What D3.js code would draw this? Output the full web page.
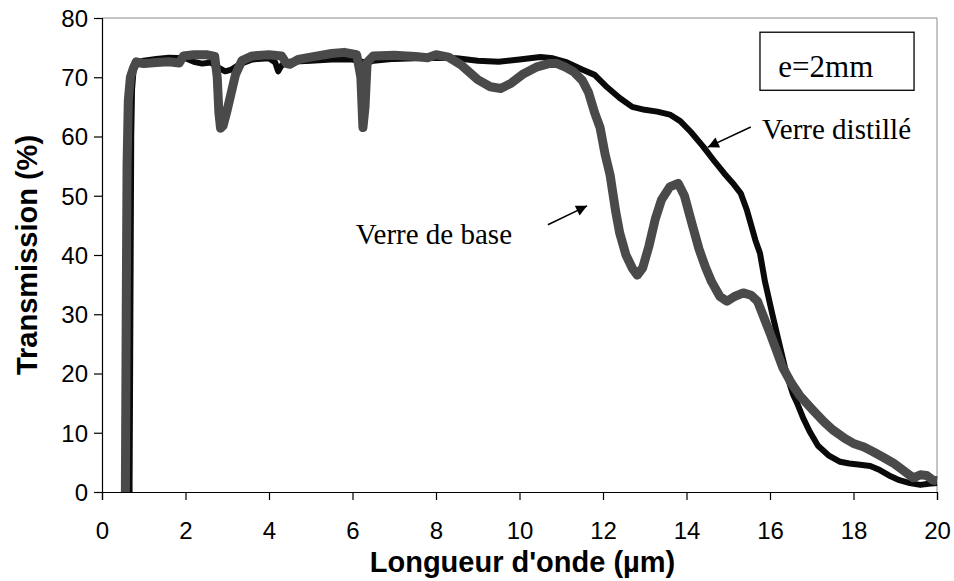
<!DOCTYPE html>
<html>
<head>
<meta charset="utf-8">
<script src="https://cdn.jsdelivr.net/npm/d3@7/dist/d3.min.js"></script>
<style>
  html, body { margin: 0; padding: 0; background: #fff; }
  svg { display: block; }
</style>
</head>
<body>
<svg id="chart" width="954" height="581"></svg>
<script>
// Transmission spectra of two glasses, thickness 2 mm
const baseX = [0.56,0.58,0.60,0.63,0.68,0.75,0.82,1.0,1.3,1.6,1.85,1.95,2.2,2.5,2.7,2.76,2.8,2.84,2.9,3.0,3.1,3.2,3.35,3.6,4.0,4.3,4.42,4.5,4.7,5.0,5.5,5.8,6.1,6.2,6.25,6.3,6.35,6.5,7.0,7.5,7.8,8.0,8.3,8.6,9.0,9.3,9.55,9.8,10.1,10.4,10.7,10.9,11.1,11.3,11.5,11.65,11.8,11.93,12.05,12.17,12.3,12.4,12.55,12.7,12.82,12.95,13.1,13.25,13.4,13.6,13.8,13.95,14.15,14.3,14.45,14.6,14.8,14.97,15.15,15.36,15.55,15.7,15.85,16.0,16.15,16.3,16.5,16.72,17.03,17.3,17.5,17.8,18.0,18.25,18.47,18.7,18.95,19.2,19.43,19.6,19.75,19.9,20.0];
const baseY = [0,30,55,66,70,71.5,72.6,72.3,72.5,72.6,72.4,73.6,73.8,73.8,73.5,70,64,61.4,61.8,64.5,67.5,70.5,72.8,73.6,73.8,73.6,72.3,72.2,73.0,73.4,74.0,74.2,73.8,70,61.5,65,72.5,73.6,73.7,73.5,73.3,73.8,73.4,72.1,69.6,68.4,68.1,69.0,70.6,71.7,72.3,72.3,71.7,70.9,69.5,67.5,64,61.5,57,53.5,47.5,43.7,40,37.8,36.6,37.8,41.5,46,49.3,51.5,52.1,50,44.8,41,38,35.5,33,32.2,33,33.6,33.2,32.2,29.5,26.8,24,21.1,18.5,16.2,13.8,11.8,10.5,9.0,8.2,7.6,6.8,5.9,4.9,3.6,2.4,2.9,2.8,2.0,1.9];

const distX = [0.66,0.68,0.70,0.72,0.76,0.85,1.0,1.3,1.6,2.0,2.2,2.4,2.6,2.8,2.95,3.1,3.3,3.6,4.0,4.15,4.22,4.3,4.5,5.0,5.5,6.0,6.25,6.35,6.5,7.0,7.5,8.0,8.5,9.0,9.5,10.0,10.5,10.8,11.1,11.5,11.8,12.1,12.4,12.7,13.0,13.3,13.6,13.85,14.1,14.4,14.65,14.9,15.1,15.3,15.45,15.55,15.65,15.76,15.88,16.05,16.2,16.4,16.55,16.65,16.8,16.95,17.15,17.4,17.68,17.9,18.16,18.4,18.63,18.85,19.1,19.35,19.6,19.8,20.0];
const distY = [0,30,60,68,71.5,72.5,72.8,73.1,73.3,73.2,72.6,72.3,72.5,71.6,71.0,71.3,72.2,73.0,73.2,72.5,71.0,72.0,72.6,72.8,73.0,73.0,72.6,72.4,72.8,73.1,73.2,73.3,73.2,72.8,72.6,73.0,73.4,73.2,72.6,71.3,70.4,68.3,66.5,65.0,64.5,64.2,63.7,62.6,60.8,58.3,56,53.8,52.2,50.4,47.5,45,42.5,40.3,35.5,30.2,25.7,19.8,16.5,15.0,12.4,10.2,7.8,6.2,5.1,4.8,4.6,4.4,3.7,2.8,2.0,1.5,1.2,1.4,1.5];

const xTicks = [0,2,4,6,8,10,12,14,16,18,20];
const yTicks = [0,10,20,30,40,50,60,70,80];

const xTitle = "Longueur d'onde (µm)";
const yTitle = "Transmission (%)";
const baseLabel = "Verre de base";
const distLabel = "Verre distillé";
const boxLabel = "e=2mm";

const margin = {left: 102, right: 17, top: 18, bottom: 89};
const W = 954, H = 581;

const svg = d3.select("#chart");
const x = d3.scaleLinear().domain([0, 20]).range([margin.left, W - margin.right]);
const y = d3.scaleLinear().domain([0, 80]).range([H - margin.bottom, margin.top]);

// arrowhead marker
svg.append("defs").append("marker")
  .attr("id", "arrow")
  .attr("viewBox", "0 0 10 10")
  .attr("refX", 10).attr("refY", 5)
  .attr("markerWidth", 16).attr("markerHeight", 11)
  .attr("markerUnits", "userSpaceOnUse")
  .attr("orient", "auto")
  .append("path").attr("d", "M0,0 L10,5 L0,10 Z").attr("fill", "#000");

// plot frame: light top and right borders
svg.append("line")
  .attr("x1", x(0)).attr("x2", x(20)).attr("y1", y(80)).attr("y2", y(80))
  .attr("stroke", "#8c8c8c").attr("stroke-width", 1);
svg.append("line")
  .attr("x1", x(20)).attr("x2", x(20)).attr("y1", y(80)).attr("y2", y(0))
  .attr("stroke", "#8c8c8c").attr("stroke-width", 1);

// series
const line = d3.line().x(d => x(d[0])).y(d => y(d[1])).curve(d3.curveLinear);
const basePts = baseX.map((v, i) => [v, baseY[i]]);
const distPts = distX.map((v, i) => [v, distY[i]]);

svg.append("path").datum(distPts)
  .attr("d", line).attr("fill", "none")
  .attr("stroke", "#0a0a0a").attr("stroke-width", 6)
  .attr("stroke-linejoin", "round").attr("stroke-linecap", "butt");

svg.append("path").datum(basePts)
  .attr("d", line).attr("fill", "none")
  .attr("stroke", "#4a4a4a").attr("stroke-width", 9)
  .attr("stroke-linejoin", "round").attr("stroke-linecap", "butt");

// axes
const xAxis = d3.axisBottom(x).tickValues(xTicks).tickSize(8).tickPadding(22).tickFormat(d3.format("d"));
const yAxis = d3.axisLeft(y).tickValues(yTicks).tickSize(8).tickPadding(6).tickFormat(d3.format("d"));

const gx = svg.append("g").attr("transform", `translate(0,${y(0)})`).call(xAxis);
const gy = svg.append("g").attr("transform", `translate(${x(0)},0)`).call(yAxis);
[gx, gy].forEach(g => {
  g.select(".domain").attr("stroke", "#000").attr("stroke-width", 1.2);
  g.selectAll(".tick line").attr("stroke", "#000").attr("stroke-width", 1.2);
  g.selectAll(".tick text")
    .attr("fill", "#000")
    .style("font-family", "'Liberation Sans', Arial, sans-serif")
    .style("font-size", "24px");
});
gy.selectAll(".tick text").attr("dy", "0.35em");

// axis titles
svg.append("text")
  .attr("x", (x(0) + x(20)) / 2 + 3).attr("y", 572)
  .attr("text-anchor", "middle")
  .style("font-family", "'Liberation Sans', Arial, sans-serif")
  .style("font-size", "29px").style("font-weight", "bold")
  .text(xTitle);

svg.append("text")
  .attr("transform", `translate(37,${(y(0) + y(80)) / 2}) rotate(-90)`)
  .attr("text-anchor", "middle")
  .style("font-family", "'Liberation Sans', Arial, sans-serif")
  .style("font-size", "29px").style("font-weight", "bold")
  .text(yTitle);

// thickness box
svg.append("rect")
  .attr("x", x(15.76)).attr("y", y(77.6))
  .attr("width", x(19.45) - x(15.76)).attr("height", y(67.8) - y(77.6))
  .attr("fill", "#fff").attr("stroke", "#000").attr("stroke-width", 1.3);
svg.append("text")
  .attr("x", x(16.2)).attr("y", y(70.1))
  .style("font-family", "'Liberation Serif', 'Times New Roman', serif")
  .style("font-size", "31px")
  .text(boxLabel);

// curve annotations
const serif = "'Liberation Serif', 'Times New Roman', serif";
svg.append("text")
  .attr("x", x(15.81)).attr("y", y(59.5))
  .style("font-family", serif).style("font-size", "29px")
  .text(distLabel);
svg.append("line")
  .attr("x1", x(15.54)).attr("y1", y(61.6))
  .attr("x2", x(14.51)).attr("y2", y(58.2))
  .attr("stroke", "#000").attr("stroke-width", 1.5)
  .attr("marker-end", "url(#arrow)");

svg.append("text")
  .attr("x", x(6.08)).attr("y", y(41.8))
  .style("font-family", serif).style("font-size", "29px")
  .text(baseLabel);
svg.append("line")
  .attr("x1", x(10.68)).attr("y1", y(45.1))
  .attr("x2", x(11.62)).attr("y2", y(48.3))
  .attr("stroke", "#000").attr("stroke-width", 1.5)
  .attr("marker-end", "url(#arrow)");
</script>
</body>
</html>
